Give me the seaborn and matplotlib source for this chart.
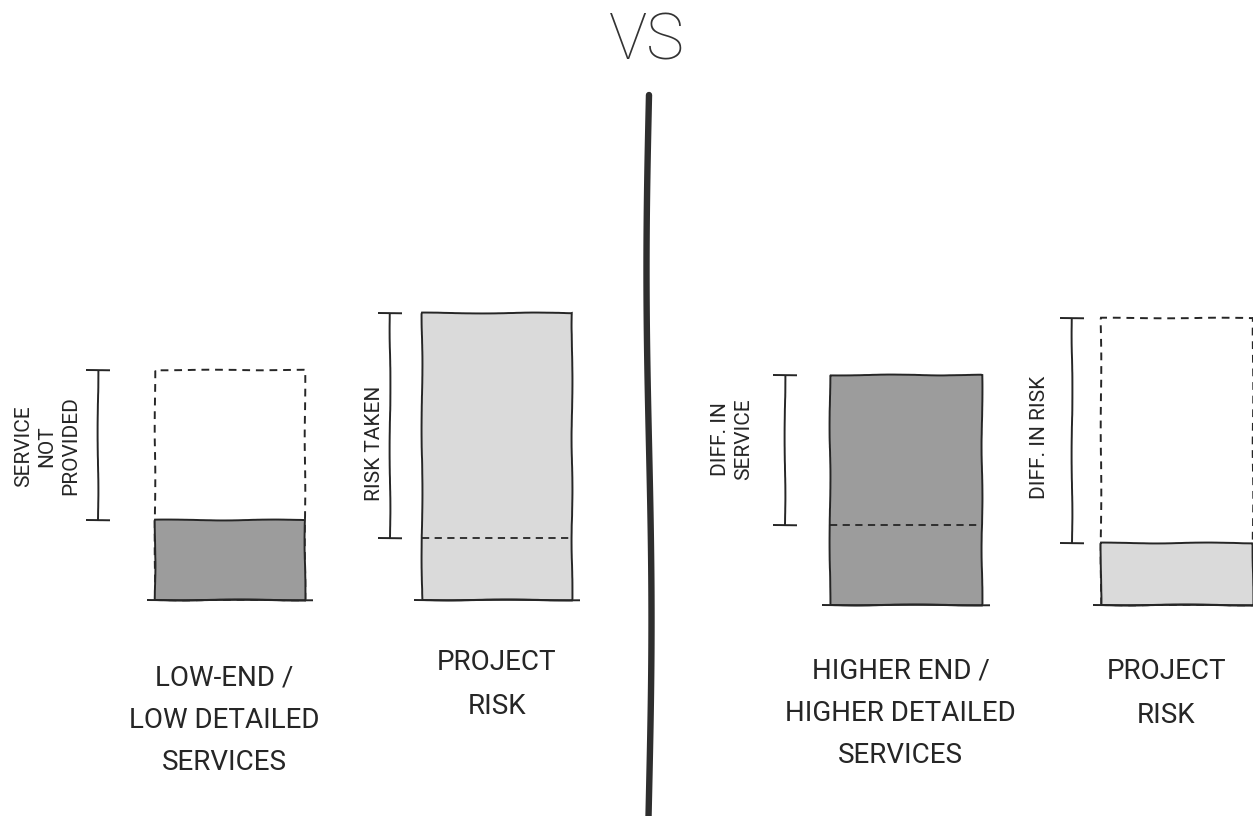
import matplotlib
matplotlib.use('Agg')
import matplotlib.pyplot as plt
import seaborn as sns

sns.set_theme(style='white')
plt.rcParams['font.family'] = ['Roboto', 'Lato', 'DejaVu Sans']

# 数据：两种服务水平下的服务量与项目风险（相对单位）
cats = ['service', 'risk']
left_labels = ['LOW-END /\nLOW DETAILED\nSERVICES', 'PROJECT\nRISK']
right_labels = ['HIGHER END /\nHIGHER DETAILED\nSERVICES', 'PROJECT\nRISK']
left_notes = ['SERVICE\nNOT\nPROVIDED', 'RISK TAKEN']
right_notes = ['DIFF. IN\nSERVICE', 'DIFF. IN RISK']
service_full = 100
service_low = 35
risk_high = 125
risk_low = 27

DARK = '#9c9c9c'
LIGHT = '#dadada'
INK = '#262626'
W, H = 1253, 816
BAR_W = 0.56
DASH = (0, (4, 3))


def sketch(artist, scale=0.4):
    artist.set_sketch_params(scale=scale, length=160, randomness=4)


def bracket(ax, x, y0, y1):
    v = ax.vlines(x, y0, y1, colors=INK, lw=1.4)
    h = ax.hlines([y0, y1], x - 0.045, x + 0.045, colors=INK, lw=1.4)
    sketch(v, 0.4)
    sketch(h, 0.3)


def draw_panel(ax, fill_vals, fill_colors, ghost, inner, notes, labels,
               bracket_dx, note_pos, label_x, label_y):
    # 虚线框：未提供 / 差额部分
    g_cat, g_val = ghost
    n0 = len(ax.patches)
    sns.barplot(x=[g_cat], y=[g_val], order=cats, fill=False, color=INK,
                width=BAR_W, linewidth=1.4, ax=ax)
    for p in ax.patches[n0:]:
        p.set_linestyle(DASH)
        sketch(p, 0.3)
    # 实际部分（实心）
    n0 = len(ax.patches)
    sns.barplot(x=cats, y=fill_vals, hue=cats, order=cats, hue_order=cats,
                palette=fill_colors, width=BAR_W, edgecolor=INK, linewidth=1.4,
                saturation=1, legend=False, ax=ax)
    bars = ax.patches[n0:]
    for p in bars:
        sketch(p, 0.45)
        # 底边略微出头
        b = ax.hlines(0, p.get_x() - 0.03, p.get_x() + p.get_width() + 0.03,
                      colors=INK, lw=1.4)
        sketch(b, 0.3)
    # 柱内虚线
    i_idx, i_val = inner
    p = bars[i_idx]
    ax.hlines(i_val, p.get_x(), p.get_x() + p.get_width(), colors=INK,
              lw=1.3, linestyles=[DASH])
    # 标尺
    spans = [(service_low, service_full), (risk_low, risk_high)]
    for i, (y0, y1) in enumerate(spans):
        bracket(ax, i + bracket_dx[i], y0, y1)
        nx, ny = note_pos[i]
        ax.text(i + nx, ny, notes[i], rotation=90, ha='center', va='center',
                multialignment='center', fontsize=15, color=INK,
                linespacing=1.3)
    # 底部文字
    for i, lab in enumerate(labels):
        ax.text(i + label_x[i], label_y[i], lab, ha='center', va='top',
                multialignment='center', fontsize=20, color=INK,
                linespacing=1.72 if i == 0 else 1.8)
    ax.set_axis_off()


fig = plt.figure(figsize=(W / 100, H / 100), dpi=100)
fig.patch.set_facecolor('white')

# 左侧面板
ax_l = fig.add_axes([0, 0, 630 / W, 1])
draw_panel(ax_l, [service_low, risk_high], [DARK, LIGHT],
           ('service', service_full), (1, risk_low), left_notes, left_labels,
           bracket_dx=[-0.494, -0.40], note_pos=[(-0.685, 67), (-0.46, 68)],
           label_x=[-0.02, 0.0], label_y=[-28, -21.5])
ax_l.set_xlim((0 - 230) / 267, (630 - 230) / 267)
ax_l.set_ylim((600 - H) / 2.3, 600 / 2.3)

# 右侧面板
ax_r = fig.add_axes([660 / W, 0, (W - 660) / W, 1])
draw_panel(ax_r, [service_full, risk_low], [DARK, LIGHT],
           ('risk', risk_high), (0, service_low), right_notes, right_labels,
           bracket_dx=[-0.446, -0.387], note_pos=[(-0.642, 72), (-0.506, 73)],
           label_x=[-0.02, -0.04], label_y=[-23, -23])
ax_r.set_xlim((660 - 906) / 271, (W - 906) / 271)
ax_r.set_ylim((605 - H) / 2.3, 605 / 2.3)

# 中间分隔线与 VS
ax_bg = fig.add_axes([0, 0, 1, 1], zorder=3)
ax_bg.set_xlim(0, W)
ax_bg.set_ylim(H, 0)
ax_bg.set_axis_off()
ax_bg.patch.set_alpha(0)
line, = ax_bg.plot([649, 649], [95, H + 5], color='#2e2e2e', lw=4.6,
                   solid_capstyle='round')
line.set_sketch_params(scale=2.5, length=700, randomness=1)
ax_bg.text(647, 42, 'VS', ha='center', va='center', fontsize=46,
           color='#333333', fontweight='light')

fig.savefig('out.png', dpi=100, facecolor='white')
